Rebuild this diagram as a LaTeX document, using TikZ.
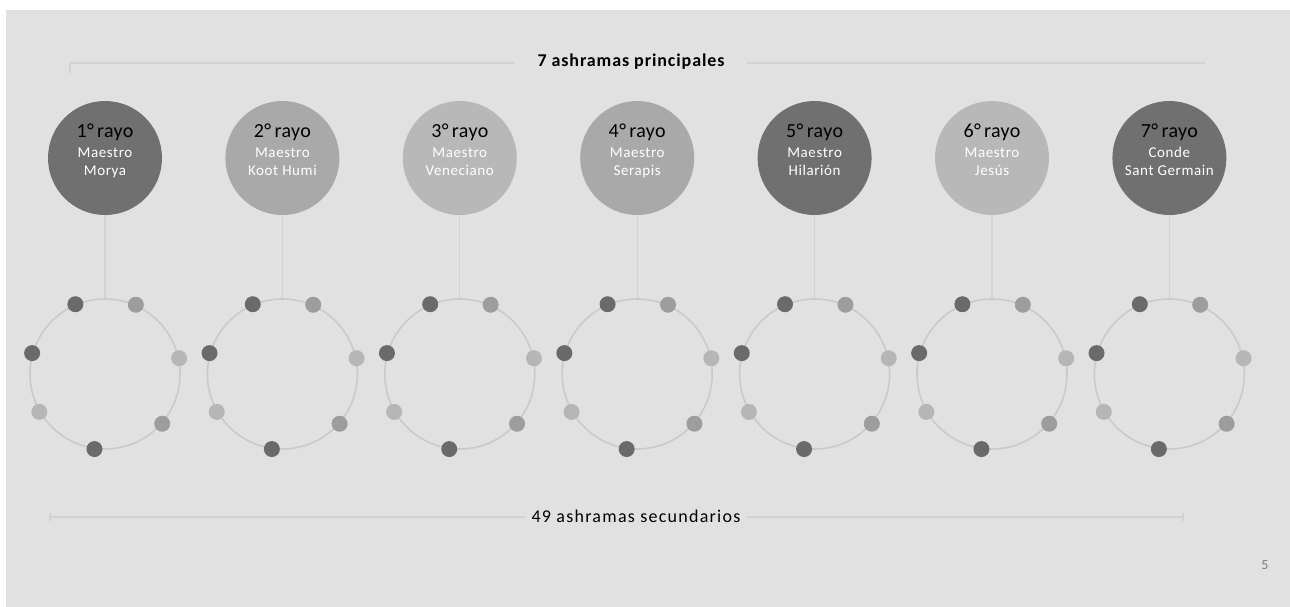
\documentclass[tikz,border=0pt]{standalone}
\usepackage{fontspec}
\setmainfont{Carlito}
\usetikzlibrary{positioning}

\definecolor{pagegray}{HTML}{E1E1E1}
\definecolor{raydark}{HTML}{707070}
\definecolor{raymid}{HTML}{A9A9A9}
\definecolor{raylight}{HTML}{B8B8B8}
\definecolor{dotdark}{HTML}{6A6A6A}
\definecolor{dotmid}{HTML}{9D9D9D}
\definecolor{dotlight}{HTML}{B6B6B6}
\definecolor{ringgray}{HTML}{CACACA}
\definecolor{linkgray}{HTML}{D2D2D2}

\newcommand{\raynum}[1]{{\fontsize{20}{22}\selectfont\addfontfeature{LetterSpace=2}\color{black}#1\textdegree\,rayo}}
\newcommand{\raytext}[3]{\raisebox{6pt}[\height][\depth]{%
  \fontsize{15}{18}\selectfont\addfontfeature{LetterSpace=4}%
  \begin{tabular}{@{}c@{}}\raynum{#1}\\[2pt] #2\\ #3\end{tabular}}}

\begin{document}
\begin{tikzpicture}[x=1pt, y=-1pt,
  node distance=83pt and 63pt,
  ray/.style={circle, minimum size=114pt, inner sep=0pt, text=white},
  ring/.style={circle, draw=ringgray, line width=1.6pt, minimum size=150pt, inner sep=0pt},
  dot/.style={circle, minimum size=16pt, inner sep=0pt},
  link/.style={draw=linkgray, line width=1.2pt},
  guide/.style={draw=linkgray, line width=1.4pt},
  title/.style={inner xsep=22pt, font=\fontsize{18}{20}\selectfont\bfseries\addfontfeature{LetterSpace=5}}
]

% page
\fill[white] (0,0) rectangle (1290,607);
\fill[pagegray] (6,10) rectangle (1290,607);
\useasboundingbox (0,0) rectangle (1290,607);

% Top: 7 ashramas principales
\node[title] (toptitle) at (631,62) {7 ashramas principales};
\coordinate (topL) at (70,63);
\coordinate (topR) at (1205,63);
\draw[guide] ([yshift=-10pt]topL) -- (topL) -- (toptitle.west |- topL);
\draw[guide] (toptitle.east |- topR) -- (topR);

% Row 1: the seven rays
\node[ray, fill=raydark] (ray1) at (105,158) {\raytext{1}{Maestro}{Morya}};
\node[ray, fill=raymid, right=of ray1] (ray2) {\raytext{2}{Maestro}{Koot Humi}};
\node[ray, fill=raylight, right=of ray2] (ray3) {\raytext{3}{Maestro}{Veneciano}};
\node[ray, fill=raymid, right=of ray3] (ray4) {\raytext{4}{Maestro}{Serapis}};
\node[ray, fill=raydark, right=of ray4] (ray5) {\raytext{5}{Maestro}{Hilarión}};
\node[ray, fill=raylight, right=of ray5] (ray6) {\raytext{6}{Maestro}{Jesús}};
\node[ray, fill=raydark, right=of ray6] (ray7) {\raytext{7}{Conde}{Sant Germain}};

% Row 2: the rings of secondary ashramas
\node[ring, below=of ray1] (ring1) {};
\node[ring, below=of ray2] (ring2) {};
\node[ring, below=of ray3] (ring3) {};
\node[ring, below=of ray4] (ring4) {};
\node[ring, below=of ray5] (ring5) {};
\node[ring, below=of ray6] (ring6) {};
\node[ring, below=of ray7] (ring7) {};

\draw[link] (ray1) -- (ring1);
\draw[link] (ray2) -- (ring2);
\draw[link] (ray3) -- (ring3);
\draw[link] (ray4) -- (ring4);
\draw[link] (ray5) -- (ring5);
\draw[link] (ray6) -- (ring6);
\draw[link] (ray7) -- (ring7);

% seven dots on every ring
\foreach \r in {1,...,7} {
  \node[dot, fill=dotmid] (d\r a) at (ring\r.66) {};
  \node[dot, fill=dotdark] (d\r b) at (ring\r.113) {};
  \node[dot, fill=dotdark] (d\r c) at (ring\r.164) {};
  \node[dot, fill=dotlight] (d\r d) at (ring\r.210) {};
  \node[dot, fill=dotdark] (d\r e) at (ring\r.262) {};
  \node[dot, fill=dotmid] (d\r f) at (ring\r.319) {};
  \node[dot, fill=dotlight] (d\r g) at (ring\r.12) {};
}

% Bottom: 49 ashramas secundarios
\node[inner xsep=6pt, font=\fontsize{18}{20}\selectfont\addfontfeature{LetterSpace=7}] (bottitle) at (636,516) {49 ashramas secundarios};
\coordinate (botL) at (50,517);
\coordinate (botR) at (1183,517);
\draw[guide] ([yshift=4pt]botL) -- ([yshift=-4pt]botL);
\draw[guide] ([yshift=4pt]botR) -- ([yshift=-4pt]botR);
\draw[guide] (botL) -- (bottitle.west |- botL);
\draw[guide] (bottitle.east |- botR) -- (botR);

% page number
\node[text=gray, font=\fontsize{14}{16}\selectfont] (pagenum) at (1265,565) {5};

\end{tikzpicture}
\end{document}
